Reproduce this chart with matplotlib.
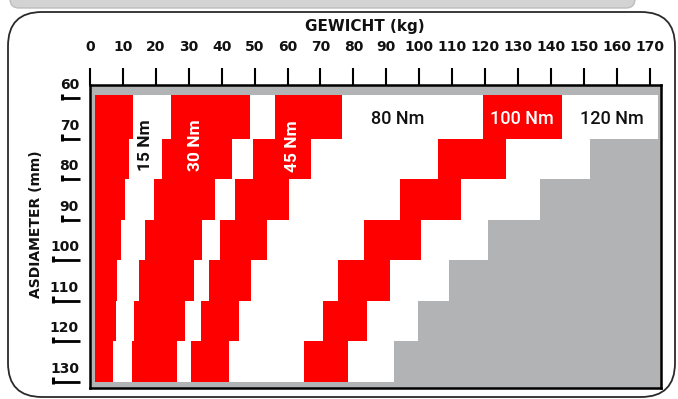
"""Torque chart: shaft diameter vs. weight, stepped Nm bands (red / white / grey)."""

import matplotlib

matplotlib.use("Agg")
import matplotlib.pyplot as plt
from matplotlib.patches import FancyBboxPatch
from matplotlib.transforms import IdentityTransform, offset_copy

_RED = "#ff0000"
_GREY = "#b2b3b5"
_INK = "#111111"

# x axis: weight in kg, y axis: shaft diameter in mm
WEIGHT_TICKS = list(range(0, 171, 10))
DIAM_TICKS = [60, 70, 80, 90, 100, 110, 120, 130]

# row boundaries (mm) of the staircase; top row starts at the inner frame edge
ROW_EDGES = [59.1, 70, 80, 90, 100, 110, 120, 130]
INNER_LEFT = 1.5

# red bands: left / right edge (kg) for each row, top to bottom
BAND_A_LEFT = [1.5, 1.5, 1.5, 1.5, 1.5, 1.5, 1.5]
BAND_A_RIGHT = [13.1, 11.8, 10.6, 9.4, 8.1, 7.9, 6.9]
BAND_30_LEFT = [24.6, 21.9, 19.4, 16.7, 14.9, 13.4, 12.8]
BAND_30_RIGHT = [48.6, 43.0, 37.9, 33.9, 31.6, 28.8, 26.4]
BAND_45_LEFT = [56.2, 49.4, 44.0, 39.5, 36.1, 33.7, 30.7]
BAND_45_RIGHT = [76.5, 67.1, 60.4, 53.9, 48.9, 45.2, 42.2]
BAND_100_LEFT = [119.4, 105.7, 94.3, 83.2, 75.3, 70.7, 65.0]
BAND_100_RIGHT = [143.5, 126.5, 112.6, 100.5, 91.1, 84.2, 78.3]
# where the grey (out of range) area starts in each row
WHITE_RIGHT = [172.4, 151.8, 136.6, 120.9, 109.0, 99.6, 92.3]

# band labels: (text, kg, mm, colour, rotation)
LABELS = [
    ("15 Nm", 17.0, 71.5, _INK, 90),
    ("30 Nm", 31.9, 71.5, "white", 90),
    ("45 Nm", 61.5, 71.7, "white", 90),
    ("80 Nm", 93.5, 65.0, _INK, 0),
    ("100 Nm", 131.1, 65.0, "white", 0),
    ("120 Nm", 158.5, 65.0, _INK, 0),
]


def stair(left, right):
    xs, ys = [], []
    for i, r in enumerate(right):
        xs += [r, r]
        ys += [ROW_EDGES[i], ROW_EDGES[i + 1]]
    for i in range(len(left) - 1, -1, -1):
        xs += [left[i], left[i]]
        ys += [ROW_EDGES[i + 1], ROW_EDGES[i]]
    return xs, ys


def main() -> None:
    W, H = 678, 399
    fig = plt.figure(figsize=(W / 100, H / 100), dpi=100)

    # card outline and the cut-off banner above it
    fig.add_artist(FancyBboxPatch((10, 391), 625, 40, boxstyle="round,pad=0,rounding_size=9",
                                  transform=IdentityTransform(), facecolor="#d3d3d4",
                                  edgecolor="#bdbdbd", linewidth=1))
    fig.add_artist(FancyBboxPatch((8, 2), 667, 385, boxstyle="round,pad=0,rounding_size=34",
                                  transform=IdentityTransform(), facecolor="none",
                                  edgecolor="#2a2a2a", linewidth=1.3))

    ax = fig.add_axes([89.5 / W, 11 / H, 571 / W, 302.5 / H])
    ax.set_facecolor(_GREY)
    ax.set_xlim(-0.15, 173.3)
    ax.set_ylim(131.5, 56.8)
    for s in ax.spines.values():
        s.set_color("black")
        s.set_linewidth(1.8)

    wx, wy = stair([INNER_LEFT] * len(WHITE_RIGHT), WHITE_RIGHT)
    ax.fill(wx, wy, color="white", linewidth=0, zorder=1)
    for left, right in [(BAND_A_LEFT, BAND_A_RIGHT), (BAND_30_LEFT, BAND_30_RIGHT),
                        (BAND_45_LEFT, BAND_45_RIGHT), (BAND_100_LEFT, BAND_100_RIGHT)]:
        bx, by = stair(left, right)
        ax.fill(bx, by, color=_RED, linewidth=0, zorder=2)

    for text, x, y, color, rot in LABELS:
        ax.text(x, y, text, color=color, rotation=rot, ha="center", va="center",
                fontsize=13 if rot == 0 else 12.5, fontweight="medium" if rot == 0 else "bold",
                family=["Roboto", "DejaVu Sans"], zorder=3)

    # weight scale on top
    ax.xaxis.tick_top()
    ax.set_xticks(WEIGHT_TICKS)
    ax.set_xticklabels([str(v) for v in WEIGHT_TICKS], fontsize=10, fontweight="bold")
    ax.tick_params(axis="x", length=12, width=1.5, color="black", pad=11, labelcolor=_INK)
    ax.set_yticks([])
    fig.text(365 / W, 1 - 27 / H, "GEWICHT (kg)", ha="center", va="center",
             fontsize=11, fontweight="bold", color=_INK)

    # diameter scale: label sitting on a short bar left of the frame
    ytr = ax.get_yaxis_transform()
    lab_tr = offset_copy(ytr, fig=fig, x=0, y=13, units="dots")
    for v in DIAM_TICKS:
        x0 = -0.064 if v >= 100 else -0.048
        ax.plot([x0, -0.0166], [v, v], color="black", lw=2, transform=ytr, clip_on=False,
                solid_capstyle="butt")
        ax.plot([x0, x0], [v - 1.2, v + 0.5], color="black", lw=2.2, transform=ytr,
                clip_on=False, solid_capstyle="butt")
        ax.text(-0.0184, v, str(v), transform=lab_tr, ha="right", va="center",
                fontsize=10, fontweight="bold", color=_INK)
    fig.text(36 / W, 1 - 224 / H, "ASDIAMETER (mm)", rotation=90, ha="center", va="center",
             fontsize=10, fontweight="bold", color=_INK)

    fig.savefig("out.png", dpi=100, facecolor="white")


if __name__ == "__main__":
    main()
